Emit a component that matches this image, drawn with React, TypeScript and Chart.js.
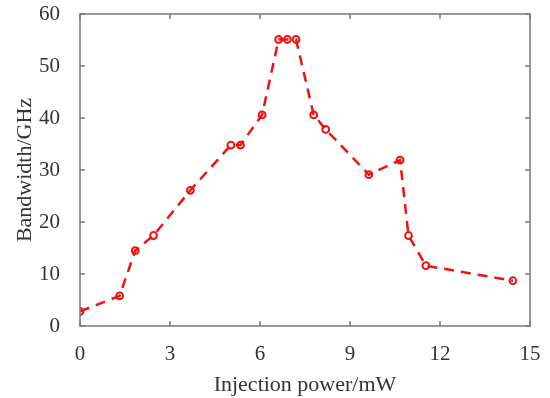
import React, { useEffect, useRef } from "react";
import { Chart, registerables } from "chart.js";

Chart.register(...registerables);

const powerMW = [0, 1.32, 1.84, 2.45, 3.68, 5.03, 5.35, 6.07, 6.62, 6.91, 7.2, 7.79, 8.19, 9.63, 10.67, 10.95, 11.53, 14.43];
const bandwidthGHz = [2.8, 5.8, 14.5, 17.4, 26.1, 34.8, 34.8, 40.6, 55.1, 55.1, 55.1, 40.6, 37.8, 29.1, 31.9, 17.4, 11.6, 8.7];
const xTicks = [0, 3, 6, 9, 12, 15];
const yTicks = [0, 10, 20, 30, 40, 50, 60];

const AXIS = "#777777";
const TEXT = "#333333";
const RED = "#f01212";
const FONT = "'Liberation Serif', 'Times New Roman', serif";

const framePlugin = {
  id: "frame",
  afterDraw(chart: any) {
    const { ctx, chartArea: a, scales } = chart;
    const x = scales.x, y = scales.y;
    const L = 5;
    ctx.save();
    ctx.strokeStyle = AXIS;
    ctx.lineWidth = 1.5;
    ctx.strokeRect(a.left, a.top, a.right - a.left, a.bottom - a.top);
    ctx.beginPath();
    for (const v of xTicks) {
      const px = x.getPixelForValue(v);
      ctx.moveTo(px, a.bottom);
      ctx.lineTo(px, a.bottom - L);
      ctx.moveTo(px, a.top);
      ctx.lineTo(px, a.top + L);
    }
    for (const v of yTicks) {
      const py = y.getPixelForValue(v);
      ctx.moveTo(a.left, py);
      ctx.lineTo(a.left + L, py);
      ctx.moveTo(a.right, py);
      ctx.lineTo(a.right - L, py);
    }
    ctx.stroke();
    ctx.restore();
  },
};

export default function App() {
  const ref = useRef<HTMLCanvasElement>(null);
  useEffect(() => {
    if (!ref.current) return;
    const chart = new Chart(ref.current, {
      type: "line",
      data: {
        datasets: [
          {
            data: powerMW.map((p, i) => ({ x: p, y: bandwidthGHz[i] })),
            borderColor: RED,
            borderWidth: 2.5,
            borderDash: [10, 7],
            pointStyle: "circle",
            pointRadius: 3.4,
            pointBorderWidth: 2,
            pointBorderColor: RED,
            pointBackgroundColor: "rgba(255,255,255,0)",
            tension: 0,
          },
        ],
      },
      plugins: [framePlugin],
      options: {
        animation: false,
        responsive: false,
        maintainAspectRatio: false,
        layout: { padding: { left: 0, right: 20, top: 14, bottom: 0 } },
        plugins: { legend: { display: false }, tooltip: { enabled: false } },
        scales: {
          x: {
            type: "linear",
            min: 0,
            max: 15,
            afterBuildTicks: (s: any) => {
              s.ticks = xTicks.map((v) => ({ value: v }));
            },
            afterFit: (s: any) => {
              s.height = 72;
              s.paddingLeft = 0;
              s.paddingRight = 0;
            },
            grid: { display: false },
            border: { display: false },
            ticks: { color: TEXT, font: { family: FONT, size: 21 }, padding: 8 },
            title: {
              display: true,
              text: "Injection power/mW",
              color: TEXT,
              font: { family: FONT, size: 22 },
              padding: { top: 1, bottom: 0 },
            },
          },
          y: {
            type: "linear",
            min: 0,
            max: 60,
            afterBuildTicks: (s: any) => {
              s.ticks = yTicks.map((v) => ({ value: v }));
            },
            afterFit: (s: any) => {
              s.width = 80;
              s.paddingTop = 0;
              s.paddingBottom = 0;
            },
            grid: { display: false },
            border: { display: false },
            ticks: { color: TEXT, font: { family: FONT, size: 21 }, padding: 12 },
            title: {
              display: true,
              text: "Bandwidth/GHz",
              color: TEXT,
              font: { family: FONT, size: 22 },
              padding: { top: 12, bottom: 4 },
            },
          },
        },
      },
    } as any);
    return () => chart.destroy();
  }, []);
  return (
    <div style={{ position: "fixed", left: 0, top: 0, width: 550, height: 398, background: "#fff" }}>
      <canvas ref={ref} width={550} height={398} style={{ display: "block" }} />
    </div>
  );
}
